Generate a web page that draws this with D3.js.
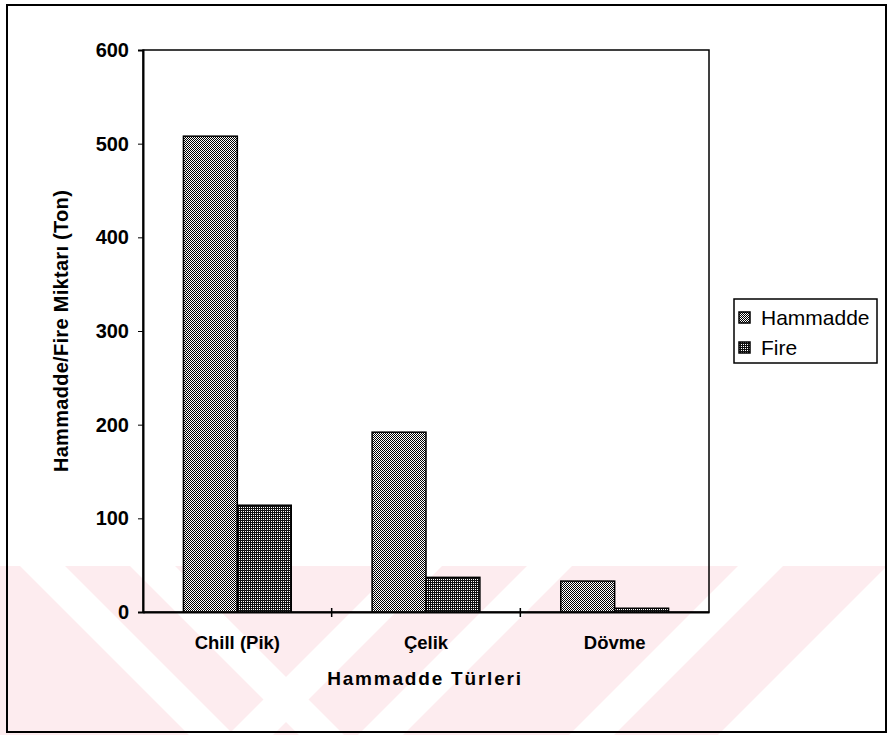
<!DOCTYPE html>
<html><head><meta charset="utf-8">
<script src="https://cdn.jsdelivr.net/npm/d3@7"></script>
<style>body{margin:0;background:#fff}svg{display:block}</style>
</head><body><svg id="c" width="889" height="735"></svg>
<script>
const categories = ["Chill (Pik)", "Çelik", "Dövme"];
const seriesNames = ["Hammadde", "Fire"];
const hammadde = [508, 192, 33];
const fire = [114, 37, 4];
const yTicks = [0, 100, 200, 300, 400, 500, 600];
const yTitle = "Hammadde/Fire Miktarı (Ton)";
const xTitle = "Hammadde Türleri";

const svg = d3.select("#c");
const W = 889, H = 735;
const font = "Arial, 'Liberation Sans', sans-serif";

// background watermark (light pink diagonal bands at bottom)
const defs = svg.append("defs");
const wmTop = 566;
defs.append("clipPath").attr("id", "wm").append("rect")
  .attr("x", 0).attr("y", wmTop).attr("width", W).attr("height", H - wmTop);
const wm = svg.append("g").attr("clip-path", "url(#wm)");
wm.append("rect").attr("x", 0).attr("y", wmTop).attr("width", W).attr("height", H - wmTop).attr("fill", "#fdecef");
const stripes = [[20, 1, 45], [130, 1, 45], [397, -1, 45], [527, -1, 45], [738, -1, 45], [887, -1, 220]];
stripes.forEach(([x0, d, w]) => {
  const h = H - wmTop;
  const pts = d > 0
    ? [[x0, wmTop], [x0 + w, wmTop], [x0 + w + h, H], [x0 + h, H]]
    : [[x0, wmTop], [x0 + w, wmTop], [x0 + w - h, H], [x0 - h, H]];
  wm.append("polygon").attr("points", pts.map(p => p.join(",")).join(" ")).attr("fill", "#fff");
});

// patterns
const pH = defs.append("pattern").attr("id", "pH").attr("width", 2).attr("height", 2).attr("patternUnits", "userSpaceOnUse");
pH.append("rect").attr("width", 2).attr("height", 2).attr("fill", "#fff");
pH.append("rect").attr("x", 0).attr("y", 0).attr("width", 1).attr("height", 1).attr("fill", "#000");
pH.append("rect").attr("x", 1).attr("y", 1).attr("width", 1).attr("height", 1).attr("fill", "#000");
const pF = defs.append("pattern").attr("id", "pF").attr("width", 2).attr("height", 2).attr("patternUnits", "userSpaceOnUse");
pF.append("rect").attr("width", 2).attr("height", 2).attr("fill", "#111");
pF.append("rect").attr("x", 1).attr("y", 1).attr("width", 1).attr("height", 1).attr("fill", "#fff");
const fills = ["url(#pH)", "url(#pF)"];

// outer frame
svg.append("rect").attr("x", 7).attr("y", 5).attr("width", 879).attr("height", 727)
  .attr("fill", "none").attr("stroke", "#000").attr("stroke-width", 2);

const m = {l: 143, r: 709, t: 50, b: 612};
const x0 = d3.scaleBand().domain(categories).range([m.l, m.r]).paddingInner(0).paddingOuter(0);
const x1 = d3.scaleBand().domain(seriesNames).range([0, x0.bandwidth()]).paddingInner(0).paddingOuter(0.75);
const y = d3.scaleLinear().domain([0, 600]).range([m.b, m.t]);

// plot frame
svg.append("rect").attr("x", m.l).attr("y", m.t).attr("width", m.r - m.l).attr("height", m.b - m.t)
  .attr("fill", "none").attr("stroke", "#000").attr("stroke-width", 1.5);

// bars
const data = categories.map((c, i) => ({c, vals: [hammadde[i], fire[i]]}));
const g = svg.append("g");
data.forEach(d => {
  d.vals.forEach((v, j) => {
    g.append("rect")
      .attr("x", x0(d.c) + x1(seriesNames[j]))
      .attr("y", y(v))
      .attr("width", x1.bandwidth())
      .attr("height", y(0) - y(v))
      .attr("fill", fills[j]).attr("stroke", "#000").attr("stroke-width", 1.5);
  });
});

// y axis
const ya = svg.append("g").attr("transform", `translate(${m.l},0)`)
  .call(d3.axisLeft(y).tickValues(yTicks).tickSize(5).tickPadding(9));
ya.select(".domain").attr("stroke-width", 2);
ya.selectAll("text").attr("font-family", font).attr("font-size", 20).attr("font-weight", "bold").attr("fill", "#000");

// x axis
const xa = svg.append("g").attr("transform", `translate(0,${m.b})`)
  .call(d3.axisBottom(x0).tickSize(0).tickPadding(24));
xa.select(".domain").attr("stroke-width", 2);
xa.selectAll("text").attr("font-family", font).attr("font-size", 18.5).attr("font-weight", "bold").attr("fill", "#000");
// category boundary ticks
svg.append("g").selectAll("line").data(categories.slice(1)).join("line")
  .attr("x1", d => x0(d)).attr("x2", d => x0(d))
  .attr("y1", m.b - 4).attr("y2", m.b + 5).attr("stroke", "#000").attr("stroke-width", 1.5);

// titles
svg.append("text").attr("transform", `translate(68,331) rotate(-90)`)
  .attr("text-anchor", "middle").attr("font-family", font).attr("font-size", 20).attr("font-weight", "bold")
  .attr("letter-spacing", 0.3)
  .text(yTitle);
svg.append("text").attr("x", 425).attr("y", 685).attr("text-anchor", "middle")
  .attr("font-family", font).attr("font-size", 19).attr("font-weight", "bold").attr("letter-spacing", 1.8)
  .text(xTitle);

// legend
const lg = svg.append("g").attr("transform", "translate(734,299)");
lg.append("rect").attr("width", 143).attr("height", 64).attr("fill", "#fff").attr("stroke", "#000").attr("stroke-width", 1.5);
seriesNames.forEach((s, i) => {
  lg.append("rect").attr("x", 5).attr("y", 13 + i * 30).attr("width", 11).attr("height", 11)
    .attr("fill", fills[i]).attr("stroke", "#000").attr("stroke-width", 1.5);
  lg.append("text").attr("x", 27).attr("y", 26 + i * 30).attr("font-family", font).attr("font-size", 21)
    .attr("fill", "#000").text(s);
});
</script>
</body></html>
